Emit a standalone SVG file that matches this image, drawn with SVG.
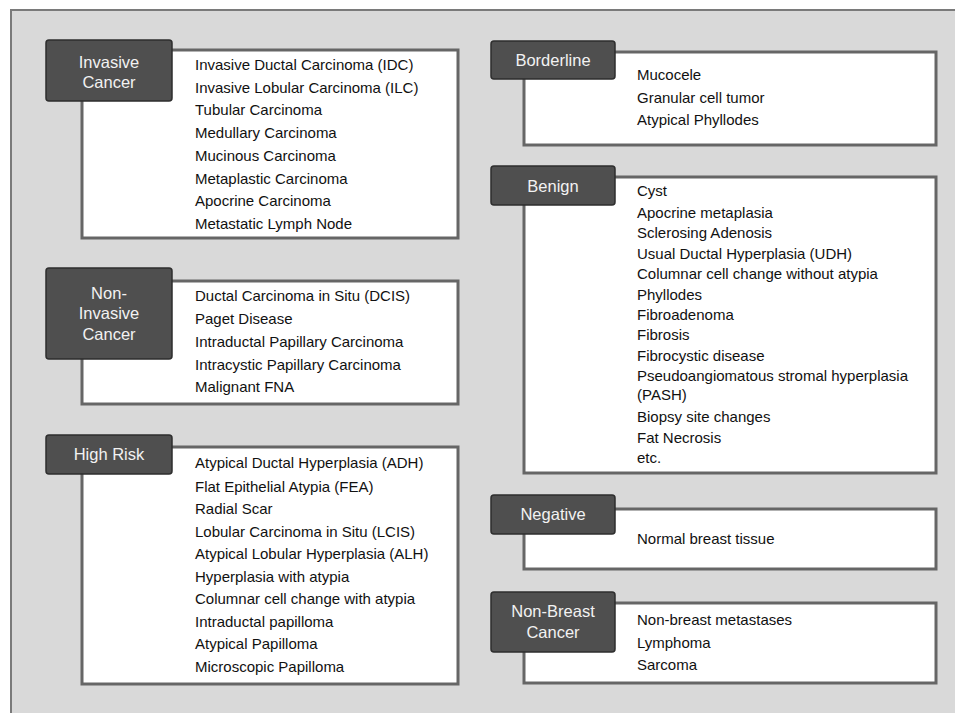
<svg xmlns="http://www.w3.org/2000/svg" width="955" height="713" viewBox="0 0 955 713">
<style>
.bg{fill:#d9d9d9}
.frame{fill:none;stroke:#7a7a7a;stroke-width:2}
.box{fill:#ffffff;stroke:#666666;stroke-width:3}
.lab{fill:#4f4f4f;stroke:#2e2e2e;stroke-width:1.5}
.lt{font-family:"Liberation Sans",Arial,sans-serif;font-size:16.5px;fill:#f2f2f2;text-anchor:middle;dominant-baseline:central}
.it{font-family:"Liberation Sans",Arial,sans-serif;font-size:15px;fill:#111111;dominant-baseline:central}
</style>
<rect class="bg" x="11" y="10" width="944" height="703"/>
<path class="frame" d="M11 713 V10 H955"/>
<g id="connectors"></g>

<g id="invasive-cancer">
<rect class="box" x="82" y="50" width="376" height="188"/>
<rect class="lab" x="46" y="40" width="126" height="61" rx="3"/>
<text class="lt" x="109" y="62">Invasive</text>
<text class="lt" x="109" y="82">Cancer</text>
<text class="it" x="195" y="64">Invasive Ductal Carcinoma (IDC)</text>
<text class="it" x="195" y="87">Invasive Lobular Carcinoma (ILC)</text>
<text class="it" x="195" y="109">Tubular Carcinoma</text>
<text class="it" x="195" y="132">Medullary Carcinoma</text>
<text class="it" x="195" y="155">Mucinous Carcinoma</text>
<text class="it" x="195" y="178">Metaplastic Carcinoma</text>
<text class="it" x="195" y="200">Apocrine Carcinoma</text>
<text class="it" x="195" y="223">Metastatic Lymph Node</text>
</g>

<g id="non-invasive-cancer">
<rect class="box" x="82" y="281" width="376" height="123"/>
<rect class="lab" x="46" y="268" width="126" height="91" rx="3"/>
<text class="lt" x="109" y="293">Non-</text>
<text class="lt" x="109" y="313">Invasive</text>
<text class="lt" x="109" y="334">Cancer</text>
<text class="it" x="195" y="295">Ductal Carcinoma in Situ (DCIS)</text>
<text class="it" x="195" y="318">Paget Disease</text>
<text class="it" x="195" y="341">Intraductal Papillary Carcinoma</text>
<text class="it" x="195" y="364">Intracystic Papillary Carcinoma</text>
<text class="it" x="195" y="386">Malignant FNA</text>
</g>

<g id="high-risk">
<rect class="box" x="82" y="447" width="376" height="237"/>
<rect class="lab" x="46" y="435" width="126" height="39" rx="3"/>
<text class="lt" x="109" y="454">High Risk</text>
<text class="it" x="195" y="462">Atypical Ductal Hyperplasia (ADH)</text>
<text class="it" x="195" y="486">Flat Epithelial Atypia (FEA)</text>
<text class="it" x="195" y="508">Radial Scar</text>
<text class="it" x="195" y="531">Lobular Carcinoma in Situ (LCIS)</text>
<text class="it" x="195" y="553">Atypical Lobular Hyperplasia (ALH)</text>
<text class="it" x="195" y="576">Hyperplasia with atypia</text>
<text class="it" x="195" y="598">Columnar cell change with atypia</text>
<text class="it" x="195" y="621">Intraductal papilloma</text>
<text class="it" x="195" y="643">Atypical Papilloma</text>
<text class="it" x="195" y="666">Microscopic Papilloma</text>
</g>

<g id="borderline">
<rect class="box" x="524" y="52" width="412" height="93"/>
<rect class="lab" x="491" y="41" width="124" height="38" rx="3"/>
<text class="lt" x="553" y="60">Borderline</text>
<text class="it" x="637" y="74">Mucocele</text>
<text class="it" x="637" y="97">Granular cell tumor</text>
<text class="it" x="637" y="119">Atypical Phyllodes</text>
</g>

<g id="benign">
<rect class="box" x="524" y="177" width="412" height="296"/>
<rect class="lab" x="491" y="166" width="124" height="39" rx="3"/>
<text class="lt" x="553" y="186">Benign</text>
<text class="it" x="637" y="190">Cyst</text>
<text class="it" x="637" y="212">Apocrine metaplasia</text>
<text class="it" x="637" y="232">Sclerosing Adenosis</text>
<text class="it" x="637" y="253">Usual Ductal Hyperplasia (UDH)</text>
<text class="it" x="637" y="273">Columnar cell change without atypia</text>
<text class="it" x="637" y="294">Phyllodes</text>
<text class="it" x="637" y="314">Fibroadenoma</text>
<text class="it" x="637" y="334">Fibrosis</text>
<text class="it" x="637" y="355">Fibrocystic disease</text>
<text class="it" x="637" y="375">Pseudoangiomatous stromal hyperplasia</text>
<text class="it" x="637" y="394">(PASH)</text>
<text class="it" x="637" y="416">Biopsy site changes</text>
<text class="it" x="637" y="437">Fat Necrosis</text>
<text class="it" x="637" y="457">etc.</text>
</g>

<g id="negative">
<rect class="box" x="524" y="509" width="412" height="60"/>
<rect class="lab" x="491" y="495" width="124" height="39" rx="3"/>
<text class="lt" x="553" y="514">Negative</text>
<text class="it" x="637" y="538">Normal breast tissue</text>
</g>

<g id="non-breast-cancer">
<rect class="box" x="524" y="603" width="412" height="80"/>
<rect class="lab" x="491" y="592" width="124" height="60" rx="3"/>
<text class="lt" x="553" y="611">Non-Breast</text>
<text class="lt" x="553" y="632">Cancer</text>
<text class="it" x="637" y="619">Non-breast metastases</text>
<text class="it" x="637" y="642">Lymphoma</text>
<text class="it" x="637" y="664">Sarcoma</text>
</g>
</svg>
